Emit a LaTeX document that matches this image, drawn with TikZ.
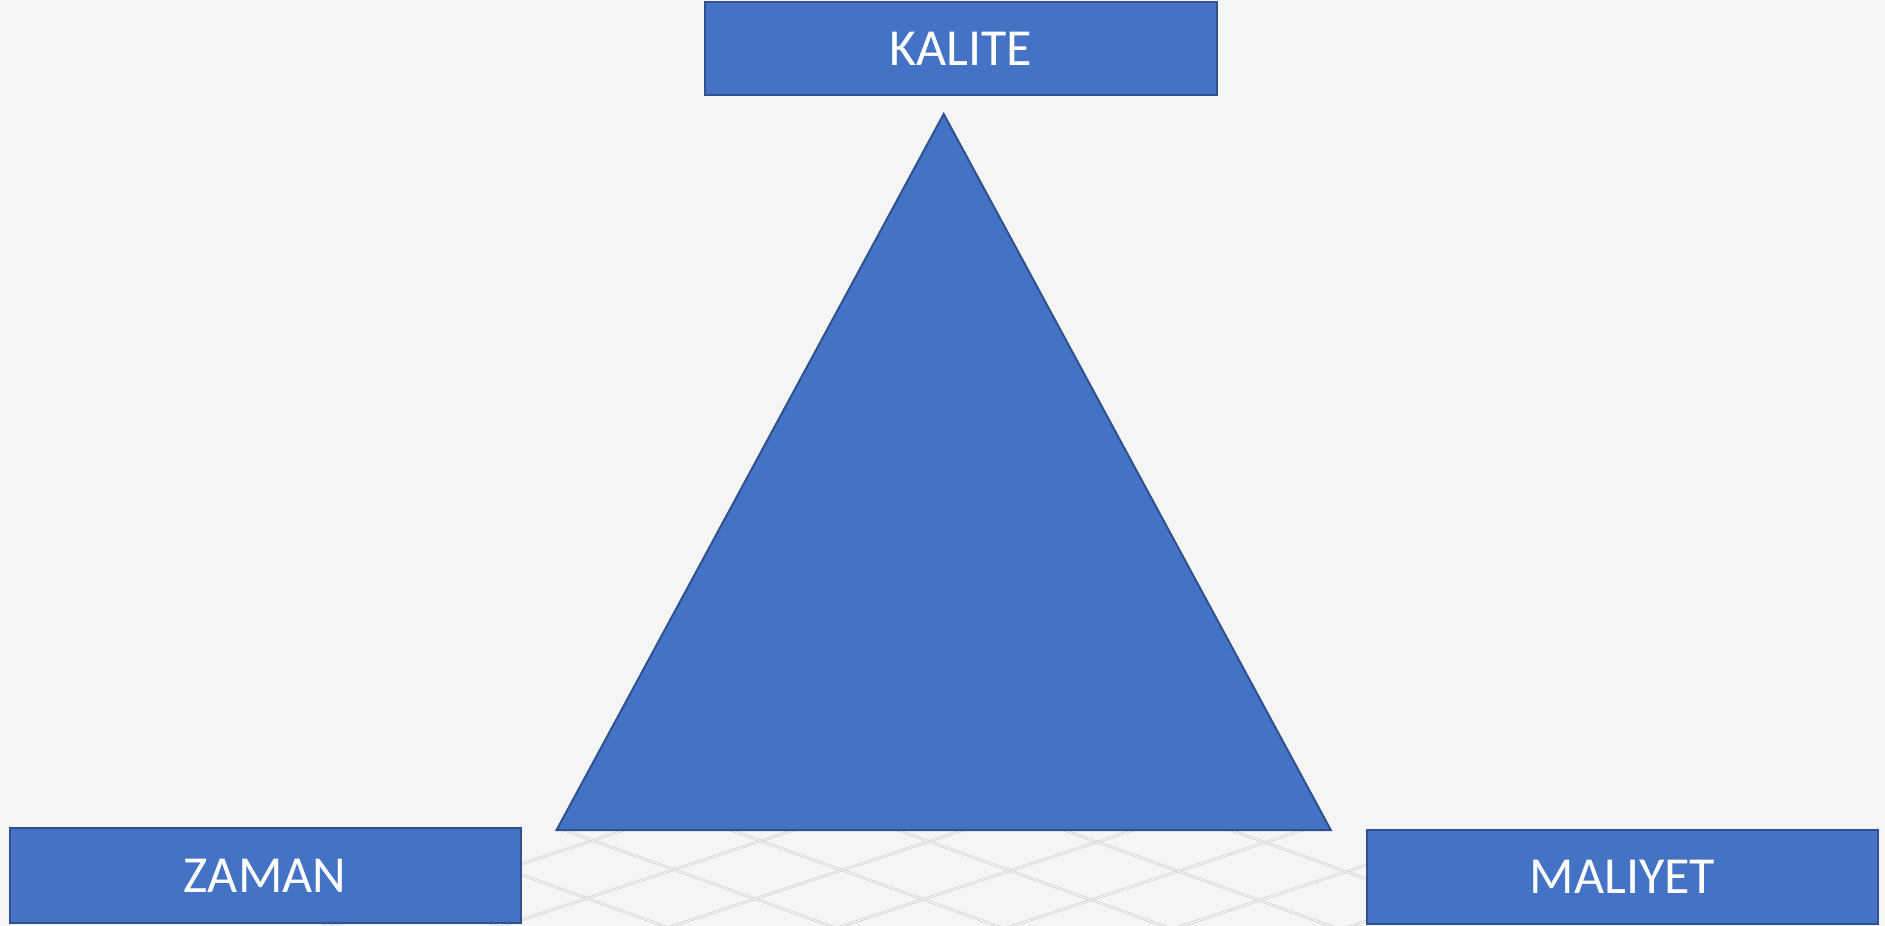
\documentclass[tikz,border=0pt]{standalone}
\usepackage{fontspec}
\setmainfont{Carlito}
\definecolor{bgc}{HTML}{F5F5F5}
\definecolor{fillblue}{HTML}{4472C4}
\definecolor{edgeblue}{HTML}{2F528F}
\definecolor{netc}{HTML}{CDCDCD}
\begin{document}
\begin{tikzpicture}[x=1pt,y=-1pt,
  labelbox/.style={draw=edgeblue, fill=fillblue, line width=2pt, text=white,
    inner sep=0pt, font=\fontsize{52}{60}\selectfont},
  netline/.style={draw=netc, double=bgc!60!white, double distance=1pt, line width=0.7pt},
  tri/.style={draw=edgeblue, fill=fillblue, line width=2pt, line join=miter}]
\useasboundingbox (0,0) rectangle (1885,926);
\fill[bgc] (0,0) rectangle (1885,926);
% background net
\begin{scope}
  \clip (300,830) rectangle (1368,926);
  \foreach \k in {-2,...,7} {
    \pgfmathsetmacro{\c}{1036+56*\k}
    \draw[netline] (200,\c-66) -- (1500,\c-495);
  }
  \foreach \k in {-6,...,3} {
    \pgfmathsetmacro{\d}{687+60*\k}
    \draw[netline] (200,\d+72) -- (1500,\d+540);
  }
\end{scope}
% triangle
\coordinate (apex) at (943.7,114);
\coordinate (bl) at (556.6,830);
\coordinate (br) at (1330.8,830);
\draw[tri] (apex) -- (bl) -- (br) -- cycle;
% boxes
\node[labelbox, minimum width=512pt, minimum height=93pt] (kalite) at (960.5,48.5) {KALITE};
\node[labelbox, minimum width=511pt, minimum height=95pt] (zaman) at (265,875.5) {ZAMAN};
\node[labelbox, minimum width=511pt, minimum height=94pt] (maliyet) at (1622.5,877) {MALIYET};
\end{tikzpicture}
\end{document}
